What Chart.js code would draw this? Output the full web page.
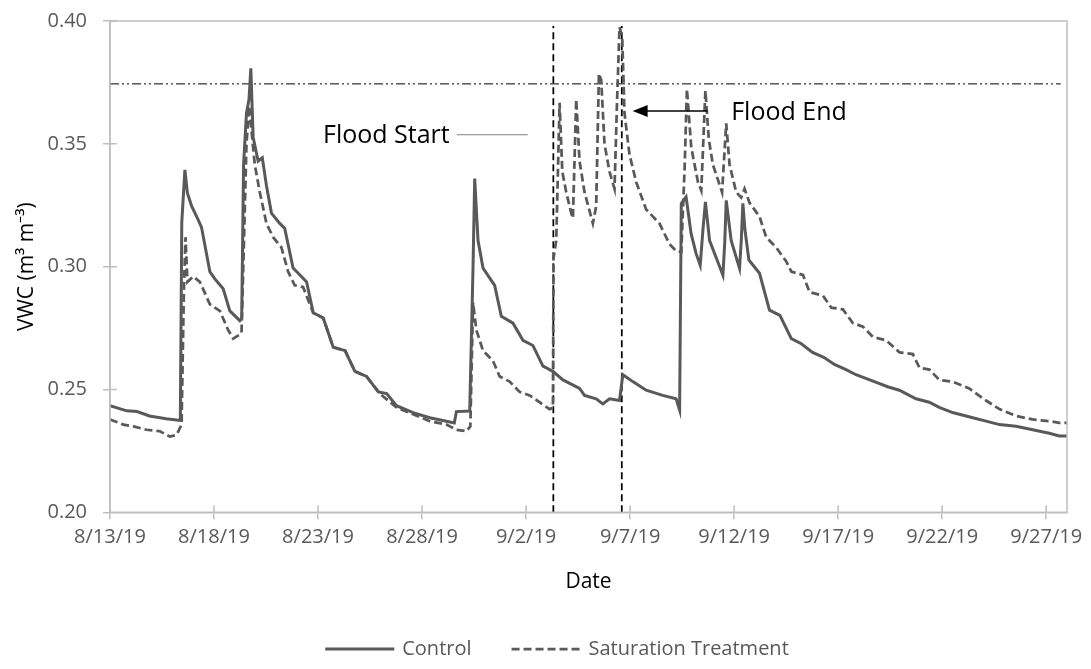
<!DOCTYPE html>
<html>
<head>
<meta charset="utf-8">
<script src="https://cdn.jsdelivr.net/npm/chart.js@4/dist/chart.umd.min.js"></script>
<style>
  body { margin: 0; background: #fff; }
  #wrap { width: 1091px; height: 669px; }
</style>
</head>
<body>
<div id="wrap"><canvas id="chart" width="1091" height="669"></canvas></div>
<script>
// x values are days since 8/13/19
const tickLabels = ['8/13/19', '8/18/19', '8/23/19', '8/28/19', '9/2/19', '9/7/19', '9/12/19', '9/17/19', '9/22/19', '9/27/19'];

const controlDays = [0, 0.8, 1.3, 1.9, 2.7, 3.3, 3.38, 3.45, 3.6, 3.72, 3.92, 4.24, 4.4, 4.8, 5.04, 5.44, 5.76, 6.24, 6.33,
  6.42, 6.56, 6.68, 6.77, 6.88, 7.12, 7.32, 7.52, 7.76, 8.16, 8.4, 8.8, 9.2, 9.45, 9.77, 10.25, 10.73, 11.3, 11.77, 12.33,
  12.9, 13.3, 13.77, 14.57, 15.37, 16.17, 16.55, 16.65, 17.29, 17.45, 17.53, 17.69, 17.93, 18.49, 18.81, 19.37, 19.85,
  20.33, 20.81, 21.29, 21.77, 22.57, 22.81, 23.37, 23.69, 24.01, 24.49, 24.65, 25.13, 25.77, 26.57, 27.21, 27.38, 27.46,
  27.69, 27.93, 28.17, 28.37, 28.5, 28.62, 28.82, 29.14, 29.46, 29.55, 29.62, 29.86, 30.26, 30.34, 30.42, 30.52, 30.71,
  31.22, 31.7, 32.2, 32.75, 33.23, 33.77, 34.33, 34.82, 35.38, 35.86, 36.74, 37.38, 37.94, 38.74, 39.38, 39.86, 40.5,
  41.47, 42.11, 42.75, 43.55, 44.35, 45.15, 45.63, 46];
const controlVWC = [0.2434, 0.2413, 0.241, 0.2392, 0.2381, 0.2375, 0.2375, 0.318, 0.3394, 0.330, 0.3247, 0.319, 0.316, 0.298,
  0.295, 0.291, 0.282, 0.278, 0.279, 0.3415, 0.3625, 0.368, 0.3807, 0.3527, 0.343, 0.3443, 0.333, 0.3218, 0.3176, 0.3155,
  0.2994, 0.296, 0.2938, 0.2812, 0.2791, 0.2672, 0.2658, 0.2574, 0.2553, 0.249, 0.2483, 0.2434, 0.2406, 0.2385, 0.2371,
  0.2364, 0.241, 0.2412, 0.300, 0.3359, 0.3106, 0.2994, 0.2924, 0.2798, 0.277, 0.270, 0.2679, 0.2595, 0.2574, 0.2539,
  0.2504, 0.2476, 0.2462, 0.2441, 0.2462, 0.2455, 0.256, 0.2532, 0.2497, 0.2476, 0.2462, 0.2416, 0.3257,
  0.3284, 0.3135, 0.3054, 0.3006, 0.315, 0.3264, 0.3106, 0.3036, 0.2965, 0.31, 0.327, 0.3106, 0.2993, 0.31, 0.3258, 0.315,
  0.3027, 0.2973, 0.2823, 0.2802, 0.2707, 0.2686, 0.2651, 0.263, 0.2602, 0.2581, 0.256, 0.2532, 0.2511, 0.2497, 0.2462,
  0.2448, 0.2427, 0.2406, 0.2385, 0.2371, 0.2357, 0.235, 0.2336, 0.2322, 0.2311, 0.2311];

const satDays = [0, 0.64, 1.12, 1.76, 2.4, 2.88, 3.2, 3.44, 3.55, 3.63, 3.72, 4.0, 4.32, 4.8, 5.28, 5.68, 5.92, 6.32, 6.44,
  6.56, 6.69, 6.8, 6.96, 7.2, 7.52, 7.84, 8.24, 8.56, 8.88, 9.28, 9.77, 10.25, 10.73, 11.3, 11.77, 12.33, 12.97, 13.77,
  14.57, 15.37, 16.17, 16.65, 17.13, 17.32, 17.45, 17.61, 17.93, 18.41, 18.73, 19.21, 19.69, 20.17, 20.65, 21.13, 21.29,
  21.32, 21.45, 21.61, 21.74, 21.93, 22.17, 22.25, 22.41, 22.57, 22.81, 23.21, 23.37, 23.5, 23.61, 23.77, 24.01, 24.25,
  24.37, 24.49, 24.62, 24.73, 24.97, 25.29, 25.77, 26.41, 26.89, 27.21, 27.46, 27.62, 27.73, 27.94, 28.26, 28.42, 28.62,
  28.78, 28.98, 29.42, 29.62, 29.78, 30.1, 30.34, 30.5, 30.74, 31.22, 31.54, 32.02, 32.5, 32.75, 33.31, 33.63, 34.27,
  34.67, 35.23, 35.71, 36.19, 36.67, 37.31, 37.95, 38.59, 38.91, 39.39, 39.86, 40.5, 41.3, 42.11, 42.75, 43.55, 44.35,
  45.15, 45.63, 46];
const satVWC = [0.2378, 0.2357, 0.235, 0.2336, 0.233, 0.2308, 0.2315, 0.2357, 0.29, 0.312, 0.2938, 0.296, 0.2938, 0.2847,
  0.282, 0.2742, 0.2707, 0.2728, 0.3106, 0.3499, 0.3653, 0.3555, 0.3415, 0.3303, 0.3176, 0.312, 0.3078, 0.298, 0.2924,
  0.2917, 0.2812, 0.2791, 0.2672, 0.2658, 0.2574, 0.2553, 0.2483, 0.2427, 0.2399, 0.2371, 0.2357, 0.2336, 0.233, 0.235,
  0.2854, 0.2742, 0.2658, 0.2616, 0.2553, 0.2532, 0.249, 0.2476, 0.2448, 0.242, 0.2425, 0.3036, 0.3106, 0.3667, 0.3387,
  0.3303, 0.3218, 0.3197, 0.3681, 0.3429, 0.3303, 0.3176, 0.3247, 0.3786, 0.376, 0.3499, 0.3387, 0.3317, 0.3667, 0.3975,
  0.3933, 0.3625, 0.3457, 0.3345, 0.3233, 0.3176, 0.3092, 0.3064, 0.306, 0.34, 0.3723, 0.3485, 0.3345, 0.331, 0.3717,
  0.352, 0.3415, 0.3303, 0.3583, 0.3415, 0.3303, 0.3282, 0.3317, 0.326, 0.3204, 0.312, 0.3078, 0.3022, 0.298, 0.2966,
  0.2896, 0.2882, 0.2833, 0.2826, 0.277, 0.2756, 0.2714, 0.27, 0.2651, 0.2644, 0.2588, 0.2581, 0.2539, 0.2532, 0.2504,
  0.2455, 0.242, 0.2392, 0.2378, 0.2371, 0.2364, 0.2364];

const floodStartDay = 21.31;
const floodEndDay = 24.6;
const saturationVWC = 0.3744;

const GREY = '#595959';
const AXIS = '#BFBFBF';
const FONT = "'Open Sans', sans-serif";

function pts(xs, ys) {
  return xs.map((x, i) => ({ x: x, y: ys[i] }));
}

// frame, inner tick halves, legend and flood annotations
const extras = {
  id: 'extras',
  afterDatasetsDraw(chart) {
    const { ctx, chartArea: a, scales: { x, y } } = chart;
    ctx.save();
    ctx.strokeStyle = AXIS;
    ctx.lineWidth = 1.5;
    ctx.strokeRect(a.left, a.top, a.right - a.left, a.bottom - a.top);
    ctx.beginPath();
    for (let i = 0; i < tickLabels.length; i++) {
      const px = x.getPixelForValue(i * 5);
      ctx.moveTo(px, a.bottom);
      ctx.lineTo(px, a.bottom - 7);
    }
    for (let v = 0.25; v < 0.4; v += 0.05) {
      const py = y.getPixelForValue(v);
      ctx.moveTo(a.left, py);
      ctx.lineTo(a.left + 7, py);
    }
    ctx.stroke();

    // Flood Start label with thin leader
    ctx.fillStyle = '#000';
    ctx.font = '25px ' + FONT;
    ctx.textBaseline = 'alphabetic';
    ctx.textAlign = 'right';
    ctx.fillText('Flood Start', x.getPixelForValue(16.33), y.getPixelForValue(0.3505));
    const ly = y.getPixelForValue(0.3537);
    ctx.strokeStyle = '#808080';
    ctx.lineWidth = 1;
    ctx.beginPath();
    ctx.moveTo(x.getPixelForValue(16.67), ly);
    ctx.lineTo(x.getPixelForValue(20.08), ly);
    ctx.stroke();

    // Flood End label with arrow
    ctx.textAlign = 'left';
    ctx.fillText('Flood End', x.getPixelForValue(29.86), y.getPixelForValue(0.3596));
    const ay = y.getPixelForValue(0.3634);
    const ax0 = x.getPixelForValue(28.72);
    const ax1 = x.getPixelForValue(25.12);
    ctx.strokeStyle = '#000';
    ctx.lineWidth = 1.5;
    ctx.beginPath();
    ctx.moveTo(ax0, ay);
    ctx.lineTo(ax1 + 10, ay);
    ctx.stroke();
    ctx.beginPath();
    ctx.moveTo(ax1, ay);
    ctx.lineTo(ax1 + 15, ay - 6);
    ctx.lineTo(ax1 + 15, ay + 6);
    ctx.closePath();
    ctx.fill();

    // legend
    ctx.font = '20px ' + FONT;
    ctx.textBaseline = 'middle';
    const items = chart.data.datasets.filter(d => d.inLegend);
    const sample = 69, gapText = 8, gapItem = 40;
    let total = 0;
    items.forEach((d, i) => {
      total += sample + gapText + ctx.measureText(d.label).width + (i ? gapItem : 0);
    });
    let lx = 557 - total / 2;
    const legY = 649;
    items.forEach(d => {
      ctx.strokeStyle = d.borderColor;
      ctx.lineWidth = d.borderWidth;
      ctx.setLineDash(d.borderDash || []);
      ctx.beginPath();
      ctx.moveTo(lx, legY);
      ctx.lineTo(lx + sample, legY);
      ctx.stroke();
      ctx.setLineDash([]);
      ctx.fillStyle = GREY;
      ctx.fillText(d.label, lx + sample + gapText, legY);
      lx += sample + gapText + ctx.measureText(d.label).width + gapItem;
    });
    ctx.restore();
  }
};

new Chart(document.getElementById('chart'), {
  type: 'line',
  data: {
    datasets: [
      {
        label: 'Control', inLegend: true,
        data: pts(controlDays, controlVWC),
        borderColor: GREY, borderWidth: 3, pointRadius: 0, tension: 0
      },
      {
        label: 'Saturation Treatment', inLegend: true,
        data: pts(satDays, satVWC),
        borderColor: GREY, borderWidth: 2.75, borderDash: [8, 4], pointRadius: 0, tension: 0
      },
      {
        label: 'Saturation', data: [{ x: 0, y: saturationVWC }, { x: 45.7, y: saturationVWC }],
        borderColor: '#000', borderWidth: 1, borderDash: [9, 3, 2, 3, 2, 3], pointRadius: 0
      },
      {
        label: 'Flood start', data: [{ x: floodStartDay, y: 0.2 }, { x: floodStartDay, y: 0.398 }],
        borderColor: '#000', borderWidth: 1.75, borderDash: [7, 4], pointRadius: 0
      },
      {
        label: 'Flood end', data: [{ x: floodEndDay, y: 0.2 }, { x: floodEndDay, y: 0.398 }],
        borderColor: '#000', borderWidth: 1.75, borderDash: [7, 4], pointRadius: 0
      }
    ]
  },
  options: {
    responsive: false,
    animation: false,
    layout: { padding: { top: 21, right: 24, left: 0, bottom: 66.7 } },
    plugins: { legend: { display: false }, tooltip: { enabled: false } },
    font: { family: FONT },
    scales: {
      x: {
        type: 'linear', min: 0, max: 46,
        afterFit: s => { s.height = 90; s.paddingLeft = 0; s.paddingRight = 0; },
        afterBuildTicks: s => { s.ticks = tickLabels.map((t, i) => ({ value: i * 5 })); },
        ticks: {
          stepSize: 5, autoSkip: false, maxRotation: 0, padding: 6,
          color: GREY, font: { family: FONT, size: 20 },
          callback: v => tickLabels[Math.round(v / 5)]
        },
        grid: { drawOnChartArea: false, tickLength: 7, color: AXIS, lineWidth: 1.5 },
        border: { color: AXIS, width: 1.5 },
        title: { display: true, text: 'Date', color: '#000', font: { family: FONT, size: 21 }, padding: { top: 0, bottom: 8 } }
      },
      y: {
        min: 0.2, max: 0.4,
        afterFit: s => { s.width = 110; s.paddingTop = 0; s.paddingBottom = 0; },
        ticks: {
          stepSize: 0.05, padding: 16, color: GREY, font: { family: FONT, size: 20 },
          callback: v => v.toFixed(2)
        },
        grid: { drawOnChartArea: false, tickLength: 7, color: AXIS, lineWidth: 1.5 },
        border: { color: AXIS, width: 1.5 },
        title: { display: true, text: 'VWC (m³ m⁻³)', color: '#000', font: { family: FONT, size: 21 }, padding: { top: 14, bottom: 0 } }
      }
    }
  },
  plugins: [extras]
});
</script>
</body>
</html>
